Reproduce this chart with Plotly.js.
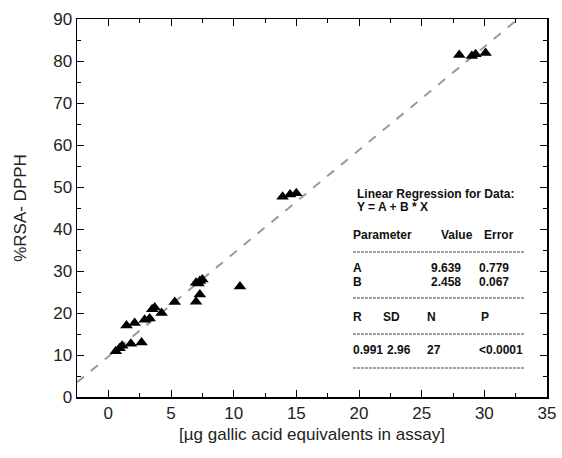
<!DOCTYPE html>
<html><head><meta charset="utf-8">
<script src="https://cdn.plot.ly/plotly-3.0.1.min.js"></script>
<style>html,body{margin:0;padding:0;background:#fff}#c{width:562px;height:458px}</style>
</head><body><div id="c"></div>
<script>
const xVals = [0.6,0.9,1.1,1.45,1.8,2.1,2.65,2.9,3.5,3.7,4.25,5.3,7.0,7.3,7.0,7.3,7.5,7.2,10.5,13.9,14.5,15.0,28.0,29.0,29.3,30.1,3.3];
const yVals = [10.9,11.6,12.2,17.0,12.7,17.6,13.0,18.4,20.9,21.3,20.0,22.6,22.7,24.4,27.2,27.6,28.0,27.0,26.3,47.7,48.2,48.5,81.4,81.2,81.6,81.9,18.7];
const regA = 9.639, regB = 2.458;
const lineX = [-2.5, (90 - regA) / regB];
const lineY = lineX.map(x => regA + regB * x);
const tableRows = [
  ["Parameter", "Value", "Error"],
  ["A", "9.639", "0.779"],
  ["B", "2.458", "0.067"],
  ["R", "SD", "N", "P"],
  ["0.991", "2.96", "27", "<0.0001"]
];

const fam = "Liberation Sans, Arial, sans-serif";
const traces = [
  {x: lineX, y: lineY, mode: "lines", line: {color: "#9a9a9a", width: 2, dash: "dash"}, hoverinfo: "skip"},
  {x: xVals, y: yVals, mode: "markers", marker: {symbol: "triangle-up", size: 11, color: "#000"}}
];

const ann = [];
const tf = {family: fam, size: 12, color: "#111"};
function t(text, x, y) { ann.push({text: "<b>" + text + "</b>", xref: "paper", yref: "paper", x: x, y: y, xanchor: "left", yanchor: "middle", showarrow: false, borderpad: 0, font: tf}); }
const X0 = 77, W = 470, Y0 = 19, H = 378;
const px = p => (p - X0) / W;
const py = p => 1 - (p - Y0) / H;
t("Linear Regression for Data:", px(356), py(193.5));
t("Y = A + B * X", px(356), py(207.5));
[352, 440, 483].forEach((c, i) => t(tableRows[0][i], px(c), py(235)));
[352, 430, 478].forEach((c, i) => t(tableRows[1][i], px(c), py(268)));
[352, 430, 478].forEach((c, i) => t(tableRows[2][i], px(c), py(282)));
[352, 382, 426, 480].forEach((c, i) => t(tableRows[3][i], px(c), py(317)));
[352, 386, 426, 478].forEach((c, i) => t(tableRows[4][i], px(c), py(350)));
const shapes = [252, 298, 334, 368].map(yy => ({type: "line", xref: "paper", yref: "paper", x0: px(353), x1: px(525), y0: py(yy), y1: py(yy), line: {color: "#444", width: 1, dash: "3px,1px"}}));

const axisCommon = {
  showline: true, linecolor: "#000", linewidth: 1.5, mirror: "ticks",
  ticks: "inside", ticklen: 7, tickwidth: 1, tickcolor: "#000",
  showgrid: false, zeroline: false,
  tickfont: {family: fam, size: 17, color: "#222"}
};
const layout = {
  width: 562, height: 458,
  margin: {l: 77, r: 15, t: 19, b: 61},
  paper_bgcolor: "#fff", plot_bgcolor: "#fff",
  showlegend: false,
  xaxis: Object.assign({}, axisCommon, {range: [-2.5, 35], dtick: 5, tick0: 0,
    minor: {dtick: 2.5, tick0: 0, ticks: "inside", ticklen: 4, tickcolor: "#000"},
    title: {text: "[µg gallic acid equivalents in assay]", font: {family: fam, size: 17, color: "#222"}, standoff: 6}}),
  yaxis: Object.assign({}, axisCommon, {range: [0, 90], dtick: 10,
    minor: {dtick: 5, ticks: "inside", ticklen: 4, tickcolor: "#000"},
    title: {text: "%RSA- DPPH", font: {family: fam, size: 17, color: "#222"}, standoff: 22}}),
  annotations: ann,
  shapes: shapes
};
Plotly.newPlot("c", traces, layout, {staticPlot: true});
</script></body></html>
